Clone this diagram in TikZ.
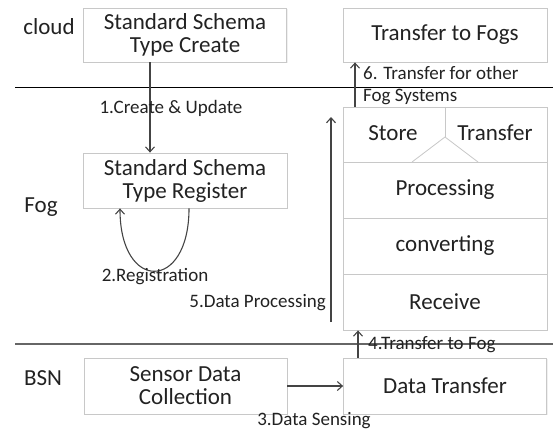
\documentclass[tikz,border=0pt]{standalone}
\usepackage{fontspec}
\setmainfont{Carlito}
\usetikzlibrary{arrows.meta,shadows}
\definecolor{txt}{HTML}{222222}
\definecolor{bord}{HTML}{C8C8C8}
\definecolor{arr}{HTML}{444444}
\begin{document}
\begin{tikzpicture}[x=1pt,y=-1pt,
  box/.style={draw=bord,line width=0.8pt,fill=white,inner sep=0pt,align=center,
    font=\fontsize{23}{23}\selectfont,text=txt,
    drop shadow={opacity=0.12,shadow xshift=1.2pt,shadow yshift=-1.2pt}},
  lbl/.style={font=\fontsize{23}{23}\selectfont,text=txt,inner sep=0pt},
  sml/.style={font=\fontsize{19}{22}\selectfont,text=txt,inner sep=0pt},
  arrw/.style={draw=arr,line width=1.1pt,-{Straight Barb[length=5pt,width=9pt]}}]
\useasboundingbox (0,0) rectangle (553,432);
% layer lines
\draw[black,line width=0.8pt] (15,87) -- (553,87);
\draw[black!60,line width=1.6pt] (15,344) -- (553,344);
% side labels
\node[lbl] (cloud) at (49,27) {cloud};
\node[lbl] (fog) at (41,207) {Fog};
\node[lbl] (bsn) at (43,378) {BSN};
% boxes
\node[box,minimum width=203pt,minimum height=54pt] (b1) at (185,35) {Standard Schema\\Type Create};
\node[box,minimum width=204pt,minimum height=54pt] (ttf) at (445,35) {Transfer to Fogs};
\node[box,minimum width=204pt,minimum height=55pt] (b2) at (185,180.5) {Standard Schema\\Type Register};
\node[box,minimum width=204pt,minimum height=55pt] (st) at (445,134.5) {};
\node[box,minimum width=204pt,minimum height=56pt] (proc) at (445,190) {Processing};
\node[box,minimum width=204pt,minimum height=56pt] (conv) at (445,246) {converting};
\node[box,minimum width=204pt,minimum height=56pt] (recv) at (445,302) {Receive};
\node[box,minimum width=203pt,minimum height=56pt] (sdc) at (185.5,386) {Sensor Data\\Collection};
\node[box,minimum width=203pt,minimum height=56pt] (dt) at (445,386) {Data Transfer};
% store/transfer divider
\coordinate (stm) at (445,137);
\draw[bord,line width=0.8pt] (st.north) -- (stm);
\draw[bord,line width=0.8pt] (412,162) -- (stm) -- (478,162);
\node[lbl] (store) at (393,133) {Store};
\node[lbl] (trans) at (495,133) {Transfer};
% arrow 1
\coordinate (x1) at (150,0);
\draw[arrw] (b1.south -| x1) -- (b2.north -| x1);
\node[sml] (l1) at (171,108) {1.Create \& Update};
% loop 2
\coordinate (lr) at (189,0);
\coordinate (ll) at (120,0);
\draw[arrw] (b2.south -| lr) .. controls (189,292) and (120,292) .. (b2.south -| ll);
\node[sml] (l2) at (155,277) {2.Registration};
% arrow 3
\draw[arrw] (sdc.east) -- (dt.west);
\node[sml] (l3) at (314,421) {3.Data Sensing};
% arrow 4
\coordinate (x4) at (358,0);
\draw[arrw] (dt.north -| x4) -- (recv.south -| x4);
\node[sml,anchor=west] (l4) at (368,345) {4.Transfer to Fog};
% arrow 5
\coordinate (p5a) at (331,322);
\coordinate (p5b) at (331,117);
\draw[arrw] (p5a) -- (p5b);
\node[sml,anchor=east] (l5) at (326,303) {5.Data Processing};
% arrow 6
\coordinate (x6) at (355,0);
\draw[arrw] (st.north -| x6) -- (ttf.south -| x6);
\node[sml,anchor=west,align=left] (l6) at (363,86) {6. Transfer for other\\Fog Systems};
\end{tikzpicture}
\end{document}
